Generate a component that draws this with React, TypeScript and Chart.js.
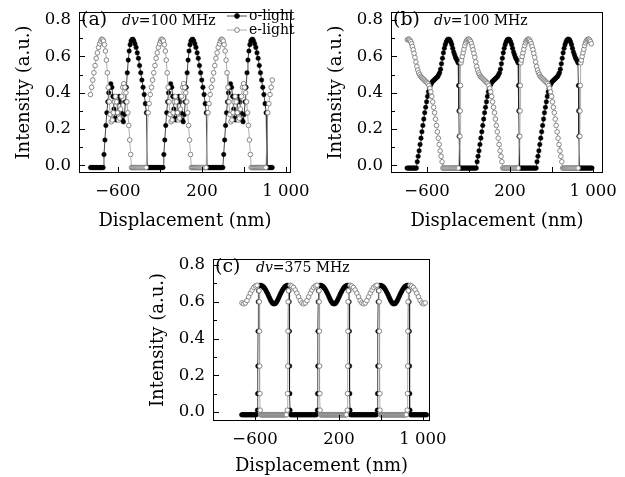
import React, { useEffect, useRef } from 'react';
import { Chart, registerables } from 'chart.js';

Chart.register(...registerables);

const FONT = "'DejaVu Serif', serif";

// Shared axis ticks
const xTickValues = [-600, -200, 200, 600, 1000];
const xTickLabels = ['\u2212600', '', '200', '', '1 000'];
const yMajorTicks = [0, 0.2, 0.4, 0.6, 0.8];
const yMinorTicks = [0.1, 0.3, 0.5, 0.7];
const yTickLabels = ['0.0', '0.2', '0.4', '0.6', '0.8'];

// ---------- (a) dv = 100 MHz ----------
// each period starts where the o-light drops to zero (nm)
const cyclesA = [-891, -321, 249, 819];
const spanA = [-867, 875];
const floorA = -0.012;
const oFloorA = [0, 10, 20, 30, 40, 50, 60, 70, 80, 90, 100, 110, 120, 130, 140, 150];
const oOffsetsA = [158, 167, 176, 185, 194, 203, 213, 223, 233, 243, 253, 263, 273, 283, 293, 303, 313, 323, 333, 343, 353, 362, 371, 380, 389, 398, 407, 416, 425, 434, 443, 453, 464, 475, 486, 497, 508, 519, 530, 541, 552, 562];
const oValuesA = [0.06, 0.14, 0.22, 0.29, 0.35, 0.40, 0.43, 0.45, 0.43, 0.38, 0.31, 0.26, 0.25, 0.29, 0.35, 0.38, 0.35, 0.29, 0.25, 0.24, 0.28, 0.35, 0.43, 0.51, 0.58, 0.63, 0.665, 0.685, 0.693, 0.695, 0.685, 0.67, 0.65, 0.62, 0.59, 0.55, 0.51, 0.47, 0.43, 0.39, 0.34, 0.29];
const eFloorA = [420, 430, 440, 450, 460, 470, 480, 490, 500, 510, 520, 530, 540, 550, 560];
const eOffsetsA = [8, 18, 29, 40, 51, 62, 73, 84, 95, 106, 117, 127, 136, 145, 154, 163, 172, 181, 190, 199, 208, 217, 227, 237, 247, 257, 267, 277, 287, 297, 307, 317, 327, 337, 347, 357, 367, 376, 385, 394, 403, 412];
const eValuesA = [0.29, 0.34, 0.39, 0.43, 0.47, 0.51, 0.55, 0.59, 0.62, 0.65, 0.67, 0.685, 0.695, 0.693, 0.685, 0.665, 0.63, 0.58, 0.51, 0.43, 0.35, 0.28, 0.24, 0.25, 0.29, 0.35, 0.38, 0.35, 0.29, 0.25, 0.26, 0.31, 0.38, 0.43, 0.45, 0.43, 0.40, 0.35, 0.29, 0.22, 0.14, 0.06];

// ---------- (b) dv = 100 MHz ----------
const cyclesB = [-862, -285, 292, 870];
const spanB = [-795, 990];
const floorB = -0.015;
const oFloorB = [0, 10, 20, 30, 40, 50, 60, 70, 80, 90, 100, 110, 120, 130, 140, 150, 160];
const oOffsetsB = [168, 177, 186, 195, 204, 213, 222, 231, 240, 249, 258, 267, 276, 285, 294, 303, 312, 321, 330, 339, 348, 357, 366, 375, 384, 393, 402, 411, 420, 429, 438, 447, 456, 465, 474, 483, 492, 501, 510, 519, 528, 537, 546, 555, 562, 567, 570, 572];
const oValuesB = [0.02, 0.05, 0.08, 0.115, 0.15, 0.185, 0.22, 0.255, 0.29, 0.32, 0.35, 0.38, 0.405, 0.425, 0.44, 0.45, 0.46, 0.465, 0.47, 0.475, 0.48, 0.485, 0.49, 0.50, 0.51, 0.53, 0.56, 0.59, 0.62, 0.645, 0.665, 0.68, 0.69, 0.695, 0.695, 0.69, 0.68, 0.665, 0.645, 0.625, 0.61, 0.595, 0.585, 0.575, 0.565, 0.44, 0.30, 0.16];
const eFloorB = [415, 425, 435, 445, 455, 465, 475, 485, 495, 505, 515, 525, 535, 545, 555, 565];
const eOffsetsB = [3, 5, 8, 12, 18, 25, 33, 41, 49, 57, 65, 73, 81, 89, 97, 105, 113, 121, 129, 137, 146, 155, 164, 173, 182, 191, 200, 209, 218, 227, 236, 245, 254, 263, 272, 281, 290, 299, 308, 317, 326, 335, 344, 353, 362, 371, 380, 389, 398, 407];
const eValuesB = [0.16, 0.30, 0.44, 0.565, 0.58, 0.60, 0.62, 0.64, 0.66, 0.675, 0.685, 0.692, 0.695, 0.695, 0.69, 0.682, 0.67, 0.655, 0.637, 0.617, 0.595, 0.57, 0.545, 0.525, 0.51, 0.50, 0.49, 0.485, 0.48, 0.475, 0.47, 0.465, 0.46, 0.455, 0.45, 0.44, 0.425, 0.405, 0.38, 0.35, 0.32, 0.29, 0.255, 0.22, 0.185, 0.15, 0.115, 0.08, 0.05, 0.02];

// ---------- (c) dv = 375 MHz ----------
// each period starts at an o-light rising edge (nm)
const cyclesC = [-1139, -568, 3, 574];
const spanC = [-727, 1035];
const floorC = -0.015;
const oOffsetsC = [-9, -7, -5, -3, -1, 2, 18, 26, 34, 42, 50, 58, 66, 74, 82, 90, 98, 106, 114, 122, 130, 138, 146, 154, 162, 170, 178, 186, 194, 202, 210, 218, 226, 234, 242, 250, 258, 266, 274, 282, 292, 294, 296, 298, 300, 302];
const oValuesC = [0.01, 0.10, 0.25, 0.44, 0.60, 0.66, 0.690, 0.689, 0.687, 0.684, 0.680, 0.675, 0.668, 0.660, 0.651, 0.642, 0.632, 0.622, 0.612, 0.603, 0.596, 0.591, 0.589, 0.589, 0.591, 0.596, 0.603, 0.612, 0.622, 0.632, 0.642, 0.651, 0.660, 0.668, 0.675, 0.680, 0.684, 0.687, 0.689, 0.690, 0.66, 0.60, 0.44, 0.25, 0.10, 0.01];
const oFloorC = [307, 314, 321, 328, 335, 342, 349, 356, 363, 370, 377, 384, 391, 398, 405, 412, 419, 426, 433, 440, 447, 454, 461, 468, 475, 482, 489, 496, 503, 510, 517, 524, 531, 538, 545, 552];
const eOffsetsC = [7, 9, 11, 13, 15, 17, 276, 278, 280, 282, 284, 287, 303, 319, 335, 351, 367, 383, 399, 415, 431, 447, 463, 479, 495, 511, 527, 543, 559];
const eValuesC = [0.66, 0.60, 0.44, 0.25, 0.10, 0.01, 0.01, 0.10, 0.25, 0.44, 0.60, 0.66, 0.690, 0.686, 0.678, 0.664, 0.647, 0.627, 0.607, 0.594, 0.589, 0.594, 0.607, 0.627, 0.647, 0.664, 0.678, 0.686, 0.690];
const eFloorC = [22, 29, 36, 43, 50, 57, 64, 71, 78, 85, 92, 99, 106, 113, 120, 127, 134, 141, 148, 155, 162, 169, 176, 183, 190, 197, 204, 211, 218, 225, 232, 239, 246, 253, 260, 267];

type Pt = { x: number; y: number };

function trace(origins: number[], offsets: number[], values: number[], floorOffsets: number[], floor: number, span: number[]): Pt[] {
  const pts: Pt[] = [];
  origins.forEach((c) => {
    offsets.forEach((d, i) => pts.push({ x: c + d, y: values[i] }));
    floorOffsets.forEach((d) => pts.push({ x: c + d, y: floor }));
  });
  return pts.filter((p) => p.x >= span[0] && p.x <= span[1]).sort((a, b) => a.x - b.x);
}

type PanelSpec = {
  left: number; top: number; w: number; h: number;
  padTop: number; padRight: number; yWidth: number; xHeight: number;
  xMin: number; xMax: number; yMin: number; yMax: number;
  tag: string; dv: string; legend: boolean;
  o: Pt[]; e: Pt[];
  xTitlePad: number; yTitlePad: number;
};

const decorations = {
  id: 'decorations',
  afterDatasetsDraw(chart: any, _args: any, opts: any) {
    const { ctx, chartArea: a, scales } = chart;
    const xs = scales.x;
    const ys = scales.y;
    const L = Math.round(a.left);
    const T = Math.round(a.top);
    const R = Math.round(a.right);
    const B = Math.round(a.bottom);
    ctx.save();
    ctx.strokeStyle = '#000';
    ctx.lineWidth = 1;
    ctx.strokeRect(L + 0.5, T + 0.5, R - L - 1, B - T - 1);
    ctx.beginPath();
    xTickValues.forEach((v) => {
      const px = Math.round(xs.getPixelForValue(v)) + 0.5;
      ctx.moveTo(px, B);
      ctx.lineTo(px, B - 6);
    });
    yMajorTicks.forEach((v) => {
      const py = Math.round(ys.getPixelForValue(v)) + 0.5;
      ctx.moveTo(L, py);
      ctx.lineTo(L + 6, py);
    });
    yMinorTicks.forEach((v) => {
      const py = Math.round(ys.getPixelForValue(v)) + 0.5;
      ctx.moveTo(L, py);
      ctx.lineTo(L + 4, py);
    });
    ctx.stroke();

    ctx.fillStyle = '#000';
    ctx.textBaseline = 'middle';
    ctx.textAlign = 'left';
    ctx.font = `19px ${FONT}`;
    ctx.fillText(opts.tag, L + 2, T + 8);
    ctx.font = `italic 14px ${FONT}`;
    const dvX = L + 43;
    ctx.fillText('dv', dvX, T + 9);
    const w = ctx.measureText('dv').width;
    ctx.font = `14px ${FONT}`;
    ctx.fillText(opts.dv, dvX + w, T + 9);

    if (opts.legend) {
      const rows = [
        { label: 'o-light', y: T + 4, fill: '#000', stroke: '#000', line: '#222' },
        { label: 'e-light', y: T + 18, fill: '#fff', stroke: '#777', line: '#999' },
      ];
      rows.forEach((r) => {
        ctx.beginPath();
        ctx.strokeStyle = r.line;
        ctx.lineWidth = 0.8;
        ctx.moveTo(L + 148, r.y);
        ctx.lineTo(L + 168, r.y);
        ctx.stroke();
        ctx.beginPath();
        ctx.arc(L + 158, r.y, 2.4, 0, Math.PI * 2);
        ctx.fillStyle = r.fill;
        ctx.fill();
        ctx.strokeStyle = r.stroke;
        ctx.lineWidth = 0.9;
        ctx.stroke();
        ctx.fillStyle = '#000';
        ctx.font = `14px ${FONT}`;
        ctx.fillText(r.label, L + 170, r.y);
      });
    }
    ctx.restore();
  },
};

// keep the plot area exactly where the layout padding puts it
const noAutoPadding = (sc: any) => {
  sc.paddingTop = 0;
  sc.paddingBottom = 0;
  sc.paddingLeft = 0;
  sc.paddingRight = 0;
};

function Panel({ spec }: { spec: PanelSpec }) {
  const ref = useRef<HTMLCanvasElement>(null);
  useEffect(() => {
    const s = spec;
    const chart = new Chart(ref.current as HTMLCanvasElement, {
      type: 'scatter',
      data: {
        datasets: [
          {
            label: 'o-light',
            data: s.o,
            order: 1,
            showLine: true,
            borderColor: '#1a1a1a',
            borderWidth: 0.8,
            pointRadius: 2.3,
            pointBackgroundColor: '#000',
            pointBorderColor: '#000',
            pointBorderWidth: 0.4,
          },
          {
            label: 'e-light',
            data: s.e,
            order: 0,
            showLine: true,
            borderColor: '#9a9a9a',
            borderWidth: 0.8,
            pointRadius: 2.3,
            pointBackgroundColor: '#fff',
            pointBorderColor: '#7a7a7a',
            pointBorderWidth: 0.9,
          },
        ],
      },
      options: {
        animation: false,
        responsive: false,
        maintainAspectRatio: false,
        events: [],
        layout: { padding: { left: 0, top: s.padTop, right: s.padRight, bottom: 0 } },
        plugins: {
          legend: { display: false },
          tooltip: { enabled: false },
          decorations: { tag: s.tag, dv: s.dv, legend: s.legend },
        } as any,
        scales: {
          x: {
            type: 'linear',
            min: s.xMin,
            max: s.xMax,
            afterBuildTicks: (sc: any) => {
              sc.ticks = xTickValues.map((v) => ({ value: v }));
            },
            afterFit: (sc: any) => {
              sc.height = s.xHeight;
              noAutoPadding(sc);
            },
            ticks: {
              autoSkip: false,
              maxRotation: 0,
              padding: 9,
              color: '#000',
              font: { family: FONT, size: 16.5 },
              callback: (v: any) => {
                const i = xTickValues.indexOf(Number(v));
                return i >= 0 ? xTickLabels[i] : '';
              },
            },
            grid: { display: false, drawTicks: false },
            border: { display: false },
            title: {
              display: true,
              text: 'Displacement (nm)',
              color: '#000',
              font: { family: FONT, size: 18 },
              padding: { top: s.xTitlePad, bottom: 0 },
            },
          },
          y: {
            type: 'linear',
            min: s.yMin,
            max: s.yMax,
            afterBuildTicks: (sc: any) => {
              sc.ticks = yMajorTicks.map((v) => ({ value: v }));
            },
            afterFit: (sc: any) => {
              sc.width = s.yWidth;
              noAutoPadding(sc);
            },
            ticks: {
              autoSkip: false,
              padding: 8,
              color: '#000',
              font: { family: FONT, size: 16.5 },
              callback: (v: any) => {
                const i = yMajorTicks.findIndex((t) => Math.abs(t - Number(v)) < 1e-6);
                return i >= 0 ? yTickLabels[i] : '';
              },
            },
            grid: { display: false, drawTicks: false },
            border: { display: false },
            title: {
              display: true,
              text: 'Intensity (a.u.)',
              color: '#000',
              font: { family: FONT, size: 18 },
              padding: { top: s.yTitlePad, bottom: 0 },
            },
          },
        },
      },
      plugins: [decorations],
    });
    return () => chart.destroy();
  }, [spec]);
  return (
    <canvas
      ref={ref}
      width={spec.w}
      height={spec.h}
      style={{ position: 'absolute', left: spec.left, top: spec.top, width: spec.w, height: spec.h }}
    />
  );
}

const panels: PanelSpec[] = [
  {
    left: 0, top: 0, w: 312, h: 232, padTop: 12, padRight: 21, yWidth: 79, xHeight: 59,
    xMin: -971, xMax: 1048, yMin: -0.042, yMax: 0.845,
    tag: '(a)', dv: '=100 MHz', legend: true,
    o: trace(cyclesA, oOffsetsA, oValuesA, oFloorA, floorA, spanA),
    e: trace(cyclesA, eOffsetsA, eValuesA, eFloorA, floorA, spanA),
    xTitlePad: 8, yTitlePad: 14,
  },
  {
    left: 312, top: 0, w: 313, h: 232, padTop: 12, padRight: 22, yWidth: 79, xHeight: 59,
    xMin: -947, xMax: 1096, yMin: -0.042, yMax: 0.845,
    tag: '(b)', dv: '=100 MHz', legend: false,
    o: trace(cyclesB, oOffsetsB, oValuesB, oFloorB, floorB, spanB),
    e: trace(cyclesB, eOffsetsB, eValuesB, eFloorB, floorB, spanB),
    xTitlePad: 8, yTitlePad: 14,
  },
  {
    left: 134, top: 247, w: 320, h: 230, padTop: 12, padRight: 24, yWidth: 79, xHeight: 56,
    xMin: -1000, xMax: 1067, yMin: -0.049, yMax: 0.833,
    tag: '(c)', dv: '=375 MHz', legend: false,
    o: trace(cyclesC, oOffsetsC, oValuesC, oFloorC, floorC, spanC),
    e: trace(cyclesC, eOffsetsC, eValuesC, eFloorC, floorC, spanC),
    xTitlePad: 4, yTitlePad: 14,
  },
];

export default function App() {
  return (
    <div style={{ position: 'fixed', left: 0, top: 0, width: 625, height: 477, background: '#fff', overflow: 'hidden' }}>
      {panels.map((p, i) => (
        <Panel key={i} spec={p} />
      ))}
    </div>
  );
}
